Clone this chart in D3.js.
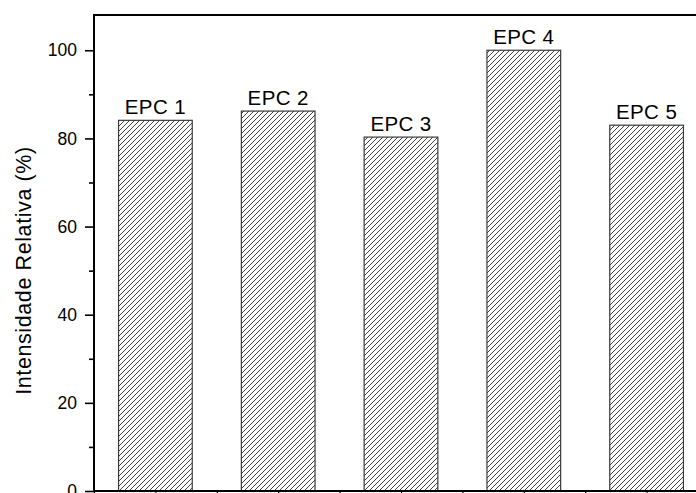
<!DOCTYPE html>
<html>
<head>
<meta charset="utf-8">
<script src="https://cdn.jsdelivr.net/npm/d3@7"></script>
<style>
  html, body { margin: 0; padding: 0; background: #fff; overflow: hidden; }
  svg { display: block; font-family: "Liberation Sans", Arial, sans-serif; }
</style>
</head>
<body>
<svg id="chart" width="696" height="493"></svg>
<script>
// Relative intensity per sample
const categories = ["EPC 1", "EPC 2", "EPC 3", "EPC 4", "EPC 5"];
const values = [84.1, 86.2, 80.3, 100, 83.0];
const yTicks = [0, 20, 40, 60, 80, 100];
const yMinorTicks = [10, 30, 50, 70, 90];
const yTitle = "Intensidade Relativa (%)";

const svg = d3.select("#chart");

// Plot frame (right side extends past the window edge)
const plotLeft = 94, plotTop = 15, plotBottom = 491, plotRight = 708;

const x = d3.scaleLinear().domain([0.5, 5.5]).range([plotLeft, plotRight]);
const y = d3.scaleLinear().domain([0, 108]).range([plotBottom, plotTop]);
const barW = 0.6;

// Diagonal hatch fill
const defs = svg.append("defs");
const pat = defs.append("pattern")
  .attr("id", "hatch")
  .attr("patternUnits", "userSpaceOnUse")
  .attr("width", 5).attr("height", 5);
pat.append("rect").attr("width", 5).attr("height", 5).attr("fill", "#fff");
pat.append("path")
  .attr("d", "M-1,1 L1,-1 M0,5 L5,0 M4,6 L6,4")
  .attr("stroke", "#2a2a2a")
  .attr("stroke-width", 0.9);

// Bars
svg.append("g").selectAll("rect")
  .data(values)
  .join("rect")
  .attr("x", (d, i) => x(i + 1 - barW / 2))
  .attr("width", (d, i) => x(i + 1 + barW / 2) - x(i + 1 - barW / 2))
  .attr("y", d => y(d))
  .attr("height", d => y(0) - y(d))
  .attr("fill", "url(#hatch)")
  .attr("stroke", "#3a3a3a")
  .attr("stroke-width", 1.2);

// Bar labels
svg.append("g").selectAll("text")
  .data(values)
  .join("text")
  .attr("x", (d, i) => x(i + 1))
  .attr("y", d => y(d) - 6)
  .attr("text-anchor", "middle")
  .attr("font-size", 20.5)
  .attr("letter-spacing", 0.4)
  .attr("fill", "#000")
  .text((d, i) => categories[i]);

// Left axis: major ticks with labels
const yAxis = svg.append("g")
  .attr("transform", `translate(${plotLeft},0)`)
  .call(d3.axisLeft(y).tickValues(yTicks).tickSize(9).tickPadding(8).tickFormat(d3.format("d")));
yAxis.select(".domain").remove();
yAxis.selectAll(".tick line").attr("stroke", "#000").attr("stroke-width", 1.6);
yAxis.selectAll(".tick text").attr("font-size", 17.5).attr("font-family", "Liberation Sans, Arial, sans-serif").attr("fill", "#000");

// Left axis: minor ticks
const yMinor = svg.append("g")
  .attr("transform", `translate(${plotLeft},0)`)
  .call(d3.axisLeft(y).tickValues(yMinorTicks).tickSize(5).tickFormat(""));
yMinor.select(".domain").remove();
yMinor.selectAll(".tick line").attr("stroke", "#000").attr("stroke-width", 1.6);

// Bottom axis ticks at categories and between them
const xTickVals = d3.range(0.5, 5.51, 0.5);
const xAxis = svg.append("g")
  .attr("transform", `translate(0,${plotBottom})`)
  .call(d3.axisBottom(x).tickValues(xTickVals).tickSize(6).tickFormat(""));
xAxis.select(".domain").remove();
xAxis.selectAll(".tick line").attr("stroke", "#000").attr("stroke-width", 1.2);

// Frame lines
svg.append("line").attr("x1", plotLeft).attr("x2", 696).attr("y1", plotTop).attr("y2", plotTop)
  .attr("stroke", "#000").attr("stroke-width", 2);
svg.append("line").attr("x1", plotLeft).attr("x2", plotLeft).attr("y1", plotTop - 1).attr("y2", plotBottom + 1)
  .attr("stroke", "#000").attr("stroke-width", 2);
svg.append("line").attr("x1", plotLeft - 1).attr("x2", 696).attr("y1", plotBottom).attr("y2", plotBottom)
  .attr("stroke", "#000").attr("stroke-width", 2);

// Y axis title
svg.append("text")
  .attr("transform", `translate(31,${(143 + 398) / 2}) rotate(-90)`)
  .attr("text-anchor", "middle")
  .attr("font-size", 21.5)
  .attr("letter-spacing", 0.6)
  .attr("fill", "#000")
  .text(yTitle);
</script>
</body>
</html>
